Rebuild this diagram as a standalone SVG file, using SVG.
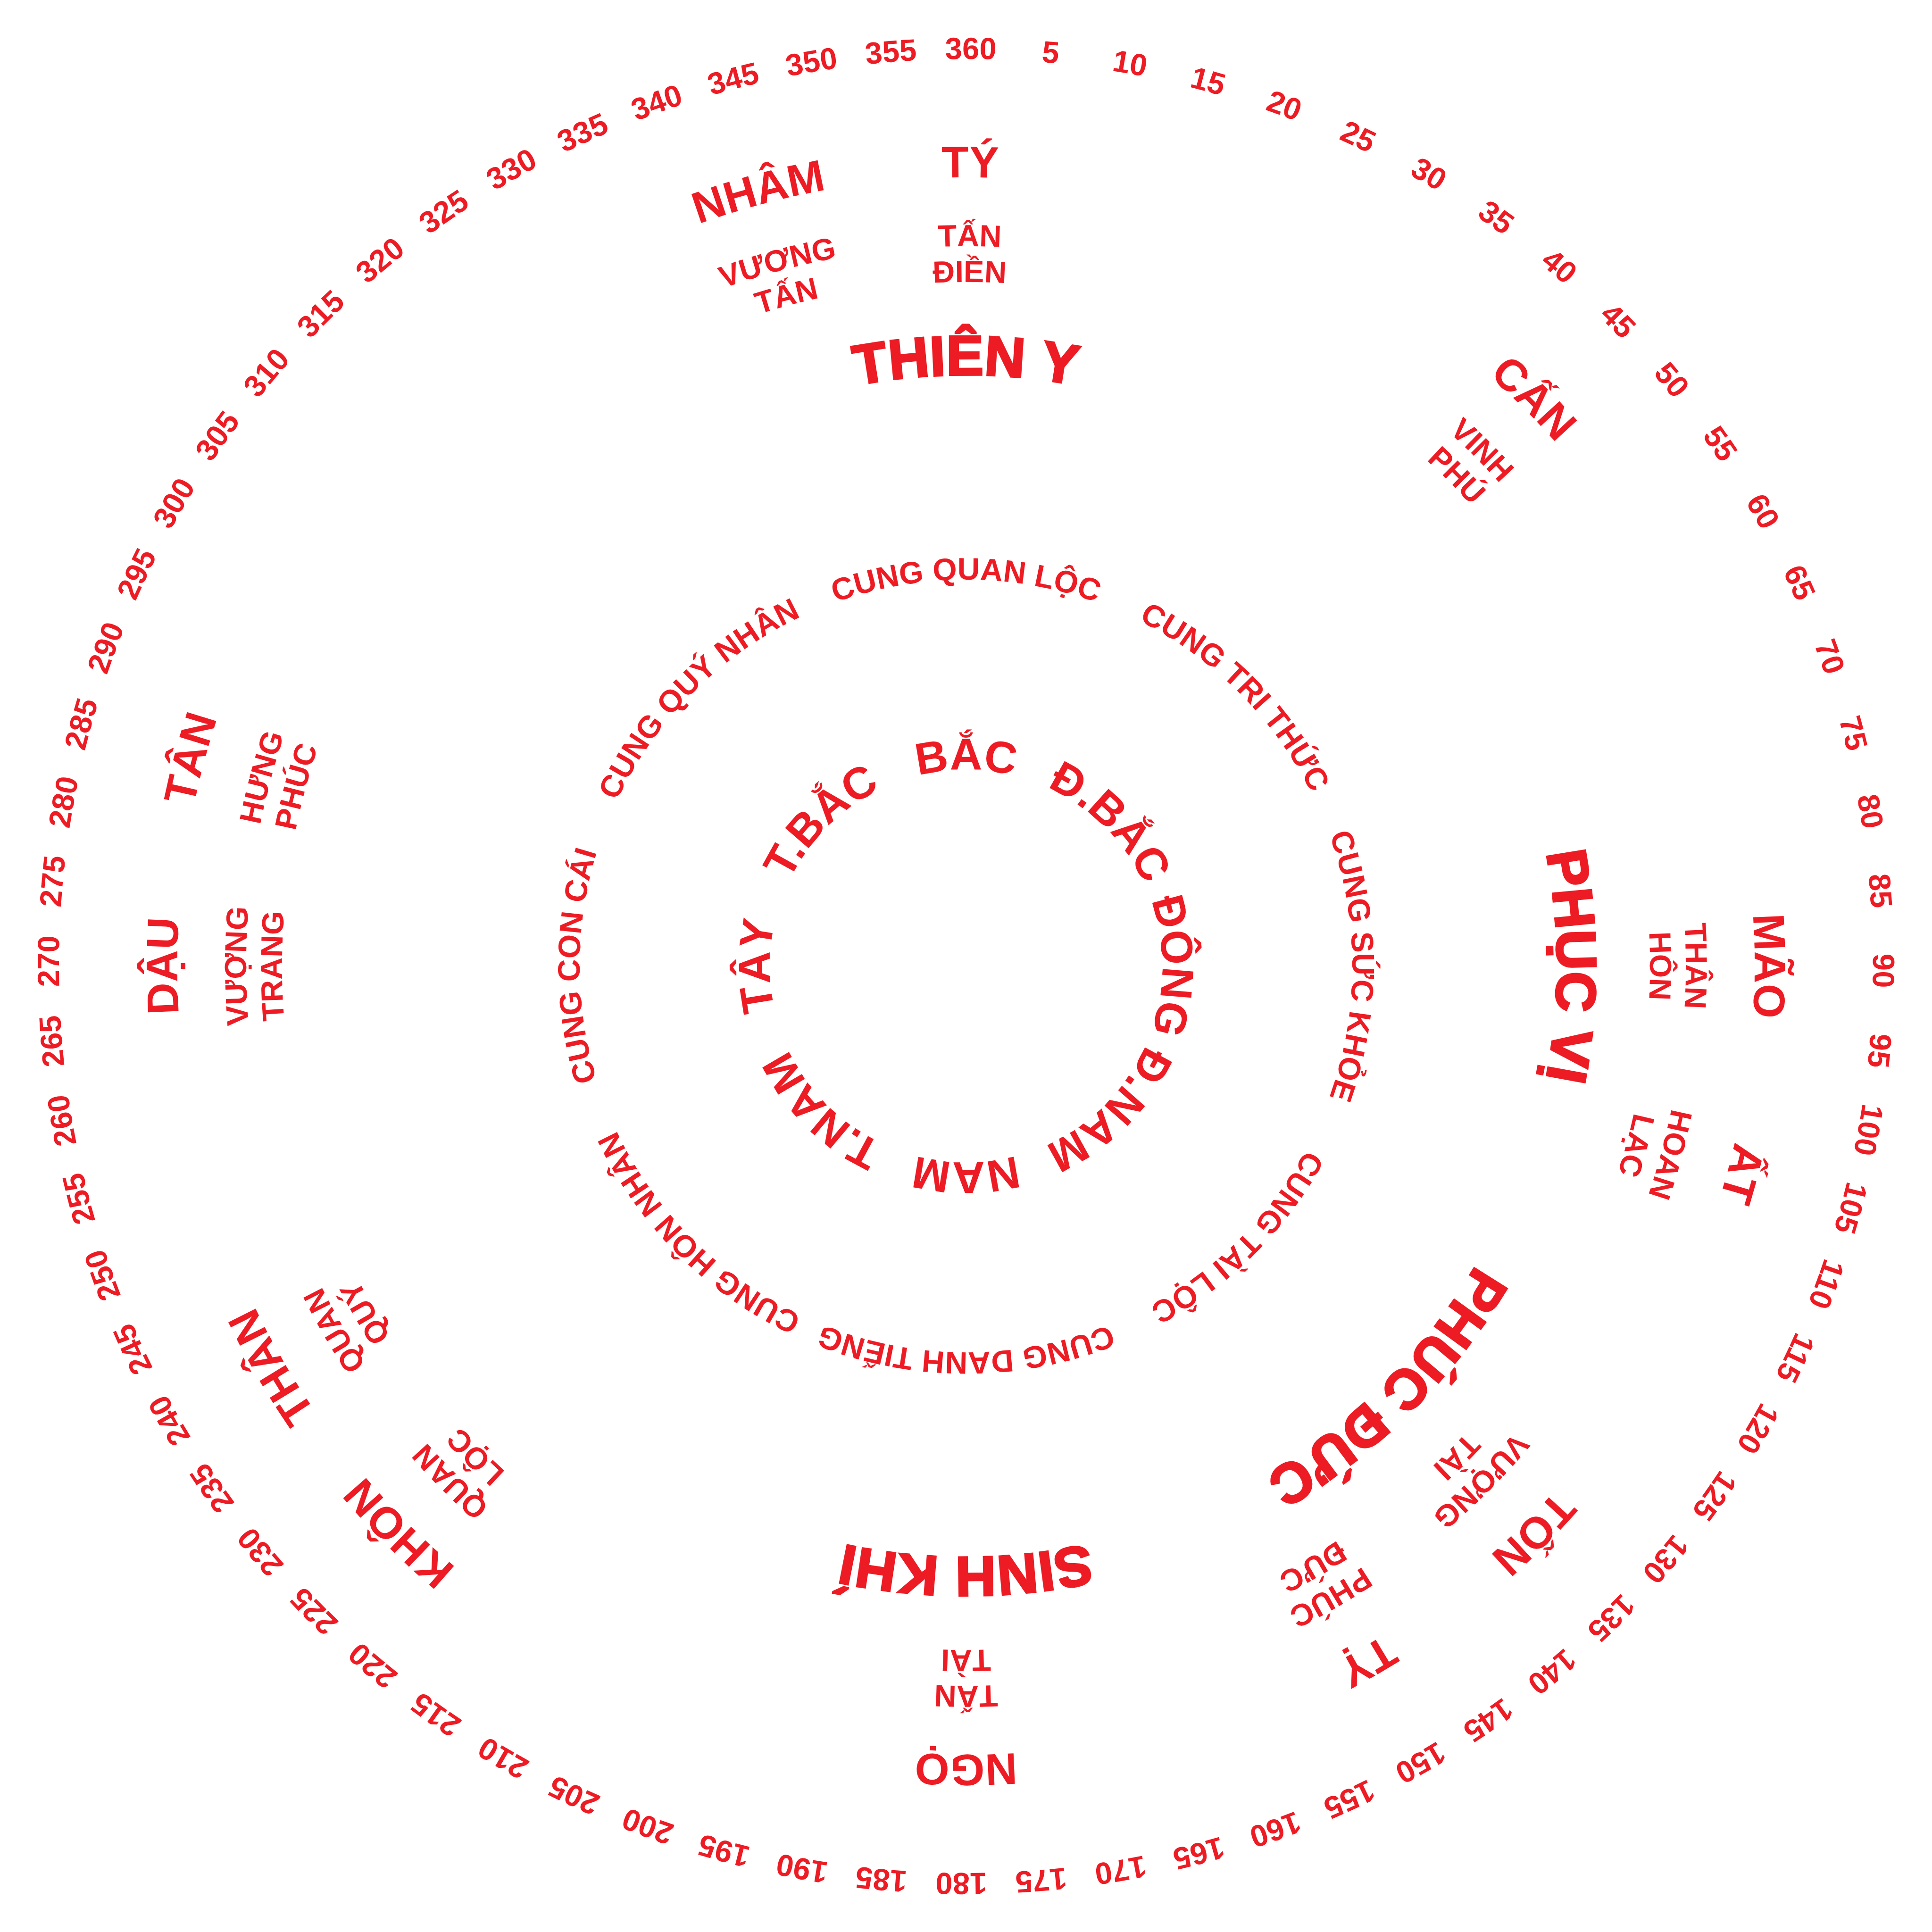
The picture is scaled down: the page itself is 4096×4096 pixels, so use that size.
<svg xmlns="http://www.w3.org/2000/svg" xmlns:xlink="http://www.w3.org/1999/xlink" width="4096" height="4096" viewBox="0 0 4096 4096">
<style>
text{fill:#ED1C24;font-family:"Liberation Sans",Arial,sans-serif;font-weight:700;text-anchor:middle}
.deg{font-size:65px}
.mt{font-size:94px}
.sub{font-size:65px}
.big{font-size:119px;stroke:#ED1C24;stroke-width:4px;stroke-linejoin:miter}
.cung{font-size:66px}
.dir{font-size:95px}
</style>
<defs>
<path id="rd" d="M2048 3971A1923 1923 0 0 1 2048 125A1923 1923 0 0 1 2048 3971"/>
<path id="rm" d="M2048 3720A1672 1672 0 0 1 2048 376A1672 1672 0 0 1 2048 3720"/>
<path id="rs1" d="M2048 3574A1526 1526 0 0 1 2048 522A1526 1526 0 0 1 2048 3574"/>
<path id="rs2" d="M2048 3498A1450 1450 0 0 1 2048 598A1450 1450 0 0 1 2048 3498"/>
<path id="rb" d="M2048 3301A1253 1253 0 0 1 2048 795A1253 1253 0 0 1 2048 3301"/>
<path id="rc" d="M2048 2867A819 819 0 0 1 2048 1229A819 819 0 0 1 2048 2867"/>
<path id="ri" d="M2048 2464A416 416 0 0 1 2048 1632A416 416 0 0 1 2048 2464"/>
</defs>
<rect width="4096" height="4096" fill="#fff"/>
<g id="degrees" class="deg">
<text transform="rotate(5.3 2048 2048)"><textPath href="#rd" startOffset="50%">5</textPath></text>
<text transform="rotate(10.3 2048 2048)"><textPath href="#rd" startOffset="50%">10</textPath></text>
<text transform="rotate(15.3 2048 2048)"><textPath href="#rd" startOffset="50%">15</textPath></text>
<text transform="rotate(20.3 2048 2048)"><textPath href="#rd" startOffset="50%">20</textPath></text>
<text transform="rotate(25.3 2048 2048)"><textPath href="#rd" startOffset="50%">25</textPath></text>
<text transform="rotate(30.3 2048 2048)"><textPath href="#rd" startOffset="50%">30</textPath></text>
<text transform="rotate(35.3 2048 2048)"><textPath href="#rd" startOffset="50%">35</textPath></text>
<text transform="rotate(40.3 2048 2048)"><textPath href="#rd" startOffset="50%">40</textPath></text>
<text transform="rotate(45.3 2048 2048)"><textPath href="#rd" startOffset="50%">45</textPath></text>
<text transform="rotate(50.3 2048 2048)"><textPath href="#rd" startOffset="50%">50</textPath></text>
<text transform="rotate(55.3 2048 2048)"><textPath href="#rd" startOffset="50%">55</textPath></text>
<text transform="rotate(60.3 2048 2048)"><textPath href="#rd" startOffset="50%">60</textPath></text>
<text transform="rotate(65.3 2048 2048)"><textPath href="#rd" startOffset="50%">65</textPath></text>
<text transform="rotate(70.3 2048 2048)"><textPath href="#rd" startOffset="50%">70</textPath></text>
<text transform="rotate(75.3 2048 2048)"><textPath href="#rd" startOffset="50%">75</textPath></text>
<text transform="rotate(80.3 2048 2048)"><textPath href="#rd" startOffset="50%">80</textPath></text>
<text transform="rotate(85.3 2048 2048)"><textPath href="#rd" startOffset="50%">85</textPath></text>
<text transform="rotate(90.3 2048 2048)"><textPath href="#rd" startOffset="50%">90</textPath></text>
<text transform="rotate(95.3 2048 2048)"><textPath href="#rd" startOffset="50%">95</textPath></text>
<text transform="rotate(100.3 2048 2048)"><textPath href="#rd" startOffset="50%">100</textPath></text>
<text transform="rotate(105.3 2048 2048)"><textPath href="#rd" startOffset="50%">105</textPath></text>
<text transform="rotate(110.3 2048 2048)"><textPath href="#rd" startOffset="50%">110</textPath></text>
<text transform="rotate(115.3 2048 2048)"><textPath href="#rd" startOffset="50%">115</textPath></text>
<text transform="rotate(120.3 2048 2048)"><textPath href="#rd" startOffset="50%">120</textPath></text>
<text transform="rotate(125.3 2048 2048)"><textPath href="#rd" startOffset="50%">125</textPath></text>
<text transform="rotate(130.3 2048 2048)"><textPath href="#rd" startOffset="50%">130</textPath></text>
<text transform="rotate(135.3 2048 2048)"><textPath href="#rd" startOffset="50%">135</textPath></text>
<text transform="rotate(140.3 2048 2048)"><textPath href="#rd" startOffset="50%">140</textPath></text>
<text transform="rotate(145.3 2048 2048)"><textPath href="#rd" startOffset="50%">145</textPath></text>
<text transform="rotate(150.3 2048 2048)"><textPath href="#rd" startOffset="50%">150</textPath></text>
<text transform="rotate(155.3 2048 2048)"><textPath href="#rd" startOffset="50%">155</textPath></text>
<text transform="rotate(160.3 2048 2048)"><textPath href="#rd" startOffset="50%">160</textPath></text>
<text transform="rotate(165.3 2048 2048)"><textPath href="#rd" startOffset="50%">165</textPath></text>
<text transform="rotate(170.3 2048 2048)"><textPath href="#rd" startOffset="50%">170</textPath></text>
<text transform="rotate(175.3 2048 2048)"><textPath href="#rd" startOffset="50%">175</textPath></text>
<text transform="rotate(180.3 2048 2048)"><textPath href="#rd" startOffset="50%">180</textPath></text>
<text transform="rotate(185.3 2048 2048)"><textPath href="#rd" startOffset="50%">185</textPath></text>
<text transform="rotate(190.3 2048 2048)"><textPath href="#rd" startOffset="50%">190</textPath></text>
<text transform="rotate(195.3 2048 2048)"><textPath href="#rd" startOffset="50%">195</textPath></text>
<text transform="rotate(200.3 2048 2048)"><textPath href="#rd" startOffset="50%">200</textPath></text>
<text transform="rotate(205.3 2048 2048)"><textPath href="#rd" startOffset="50%">205</textPath></text>
<text transform="rotate(210.3 2048 2048)"><textPath href="#rd" startOffset="50%">210</textPath></text>
<text transform="rotate(215.3 2048 2048)"><textPath href="#rd" startOffset="50%">215</textPath></text>
<text transform="rotate(220.3 2048 2048)"><textPath href="#rd" startOffset="50%">220</textPath></text>
<text transform="rotate(225.3 2048 2048)"><textPath href="#rd" startOffset="50%">225</textPath></text>
<text transform="rotate(230.3 2048 2048)"><textPath href="#rd" startOffset="50%">230</textPath></text>
<text transform="rotate(235.3 2048 2048)"><textPath href="#rd" startOffset="50%">235</textPath></text>
<text transform="rotate(240.3 2048 2048)"><textPath href="#rd" startOffset="50%">240</textPath></text>
<text transform="rotate(245.3 2048 2048)"><textPath href="#rd" startOffset="50%">245</textPath></text>
<text transform="rotate(250.3 2048 2048)"><textPath href="#rd" startOffset="50%">250</textPath></text>
<text transform="rotate(255.3 2048 2048)"><textPath href="#rd" startOffset="50%">255</textPath></text>
<text transform="rotate(260.3 2048 2048)"><textPath href="#rd" startOffset="50%">260</textPath></text>
<text transform="rotate(265.3 2048 2048)"><textPath href="#rd" startOffset="50%">265</textPath></text>
<text transform="rotate(270.3 2048 2048)"><textPath href="#rd" startOffset="50%">270</textPath></text>
<text transform="rotate(275.3 2048 2048)"><textPath href="#rd" startOffset="50%">275</textPath></text>
<text transform="rotate(280.3 2048 2048)"><textPath href="#rd" startOffset="50%">280</textPath></text>
<text transform="rotate(285.3 2048 2048)"><textPath href="#rd" startOffset="50%">285</textPath></text>
<text transform="rotate(290.3 2048 2048)"><textPath href="#rd" startOffset="50%">290</textPath></text>
<text transform="rotate(295.3 2048 2048)"><textPath href="#rd" startOffset="50%">295</textPath></text>
<text transform="rotate(300.3 2048 2048)"><textPath href="#rd" startOffset="50%">300</textPath></text>
<text transform="rotate(305.3 2048 2048)"><textPath href="#rd" startOffset="50%">305</textPath></text>
<text transform="rotate(310.3 2048 2048)"><textPath href="#rd" startOffset="50%">310</textPath></text>
<text transform="rotate(315.3 2048 2048)"><textPath href="#rd" startOffset="50%">315</textPath></text>
<text transform="rotate(320.3 2048 2048)"><textPath href="#rd" startOffset="50%">320</textPath></text>
<text transform="rotate(325.3 2048 2048)"><textPath href="#rd" startOffset="50%">325</textPath></text>
<text transform="rotate(330.3 2048 2048)"><textPath href="#rd" startOffset="50%">330</textPath></text>
<text transform="rotate(335.3 2048 2048)"><textPath href="#rd" startOffset="50%">335</textPath></text>
<text transform="rotate(340.3 2048 2048)"><textPath href="#rd" startOffset="50%">340</textPath></text>
<text transform="rotate(345.3 2048 2048)"><textPath href="#rd" startOffset="50%">345</textPath></text>
<text transform="rotate(350.3 2048 2048)"><textPath href="#rd" startOffset="50%">350</textPath></text>
<text transform="rotate(355.3 2048 2048)"><textPath href="#rd" startOffset="50%">355</textPath></text>
<text transform="rotate(0.3 2048 2048)"><textPath href="#rd" startOffset="50%">360</textPath></text>
</g>
<g id="mountain-nham" transform="rotate(345 2048 2048)">
<text class="mt"><textPath href="#rm" startOffset="50%">NHÂM</textPath></text>
<text class="sub"><textPath href="#rs1" startOffset="50%">VƯƠNG</textPath></text>
<text class="sub"><textPath href="#rs2" startOffset="50%">TẤN</textPath></text>
</g>
<g id="mountain-ty" transform="rotate(0.3 2048 2048)">
<text class="mt"><textPath href="#rm" startOffset="50%">TÝ</textPath></text>
<text class="sub"><textPath href="#rs1" startOffset="50%">TẤN</textPath></text>
<text class="sub"><textPath href="#rs2" startOffset="50%">ĐIỀN</textPath></text>
</g>
<g id="mountain-can" transform="rotate(45 2048 2048)">
<text class="mt"><textPath href="#rm" startOffset="50%">CẤN</textPath></text>
<text class="sub"><textPath href="#rs1" startOffset="50%">VINH</textPath></text>
<text class="sub"><textPath href="#rs2" startOffset="50%">PHÚ</textPath></text>
</g>
<g id="mountain-mao" transform="rotate(90 2048 2048)">
<text class="mt"><textPath href="#rm" startOffset="50%">MÃO</textPath></text>
<text class="sub"><textPath href="#rs1" startOffset="50%">THÂN</textPath></text>
<text class="sub"><textPath href="#rs2" startOffset="50%">HÔN</textPath></text>
</g>
<g id="mountain-at" transform="rotate(105 2048 2048)">
<text class="mt"><textPath href="#rm" startOffset="50%">ẤT</textPath></text>
<text class="sub"><textPath href="#rs1" startOffset="50%">HOAN</textPath></text>
<text class="sub"><textPath href="#rs2" startOffset="50%">LẠC</textPath></text>
</g>
<g id="mountain-ton" transform="rotate(135 2048 2048)">
<text class="mt"><textPath href="#rm" startOffset="50%">TỐN</textPath></text>
<text class="sub"><textPath href="#rs1" startOffset="50%">VƯỢNG</textPath></text>
<text class="sub"><textPath href="#rs2" startOffset="50%">TÀI</textPath></text>
</g>
<g id="mountain-ti" transform="rotate(150 2048 2048)">
<text class="mt"><textPath href="#rm" startOffset="50%">TỴ</textPath></text>
<text class="sub"><textPath href="#rs1" startOffset="50%">PHÚC</textPath></text>
<text class="sub"><textPath href="#rs2" startOffset="50%">ĐỨC</textPath></text>
</g>
<g id="mountain-ngo" transform="rotate(180 2048 2048)">
<text class="mt"><textPath href="#rm" startOffset="50%">NGỌ</textPath></text>
<text class="sub"><textPath href="#rs1" startOffset="50%">TẤN</textPath></text>
<text class="sub"><textPath href="#rs2" startOffset="50%">TÀI</textPath></text>
</g>
<g id="mountain-khon" transform="rotate(225 2048 2048)">
<text class="mt"><textPath href="#rm" startOffset="50%">KHÔN</textPath></text>
<text class="sub"><textPath href="#rs1" startOffset="50%">QUAN</textPath></text>
<text class="sub"><textPath href="#rs2" startOffset="50%">LỘC</textPath></text>
</g>
<g id="mountain-than" transform="rotate(240 2048 2048)">
<text class="mt"><textPath href="#rm" startOffset="50%">THÂN</textPath></text>
<text class="sub"><textPath href="#rs1" startOffset="50%">QUAN</textPath></text>
<text class="sub"><textPath href="#rs2" startOffset="50%">QUÝ</textPath></text>
</g>
<g id="mountain-dau" transform="rotate(270 2048 2048)">
<text class="mt"><textPath href="#rm" startOffset="50%">DẬU</textPath></text>
<text class="sub"><textPath href="#rs1" startOffset="50%">VƯỢNG</textPath></text>
<text class="sub"><textPath href="#rs2" startOffset="50%">TRANG</textPath></text>
</g>
<g id="mountain-tan" transform="rotate(285 2048 2048)">
<text class="mt"><textPath href="#rm" startOffset="50%">TÂN</textPath></text>
<text class="sub"><textPath href="#rs1" startOffset="50%">HƯNG</textPath></text>
<text class="sub"><textPath href="#rs2" startOffset="50%">PHÚC</textPath></text>
</g>
<g id="star-thien-y" transform="rotate(0 2048 2048)"><text class="big"><textPath href="#rb" startOffset="50%">THIÊN Y</textPath></text></g>
<g id="star-phuc-vi" transform="rotate(90 2048 2048)"><text class="big"><textPath href="#rb" startOffset="50%">PHỤC VỊ</textPath></text></g>
<g id="star-phuc-duc" transform="rotate(135 2048 2048)"><text class="big"><textPath href="#rb" startOffset="50%">PHÚC ĐỨC</textPath></text></g>
<g id="star-sinh-khi" transform="rotate(180 2048 2048)"><text class="big"><textPath href="#rb" startOffset="50%">SINH KHÍ</textPath></text></g>
<g id="palaces" class="cung">
<text transform="rotate(0 2048 2048)"><textPath href="#rc" startOffset="50%">CUNG QUAN LỘC</textPath></text>
<text transform="rotate(45 2048 2048)"><textPath href="#rc" startOffset="50%">CUNG TRI THỨC</textPath></text>
<text transform="rotate(90 2048 2048)"><textPath href="#rc" startOffset="50%">CUNG SỨC KHỎE</textPath></text>
<text transform="rotate(135 2048 2048)"><textPath href="#rc" startOffset="50%">CUNG TÀI LỘC</textPath></text>
<text transform="rotate(180 2048 2048)"><textPath href="#rc" startOffset="50%">CUNG DANH TIẾNG</textPath></text>
<text transform="rotate(225 2048 2048)"><textPath href="#rc" startOffset="50%">CUNG HÔN NHÂN</textPath></text>
<text transform="rotate(270 2048 2048)"><textPath href="#rc" startOffset="50%">CUNG CON CÁI</textPath></text>
<text transform="rotate(315 2048 2048)"><textPath href="#rc" startOffset="50%">CUNG QUÝ NHÂN</textPath></text>
</g>
<g id="directions" class="dir">
<text transform="rotate(0 2048 2048)"><textPath href="#ri" startOffset="50%">BẮC</textPath></text>
<text transform="rotate(45 2048 2048)"><textPath href="#ri" startOffset="50%">Đ.BẮC</textPath></text>
<text transform="rotate(90 2048 2048)"><textPath href="#ri" startOffset="50%">ĐÔNG</textPath></text>
<text transform="rotate(135 2048 2048)"><textPath href="#ri" startOffset="50%">Đ.NAM</textPath></text>
<text transform="rotate(180 2048 2048)"><textPath href="#ri" startOffset="50%">NAM</textPath></text>
<text transform="rotate(225 2048 2048)"><textPath href="#ri" startOffset="50%">T.NAM</textPath></text>
<text transform="rotate(270 2048 2048)"><textPath href="#ri" startOffset="50%">TÂY</textPath></text>
<text transform="rotate(315 2048 2048)"><textPath href="#ri" startOffset="50%">T.BẮC</textPath></text>
</g>
</svg>
